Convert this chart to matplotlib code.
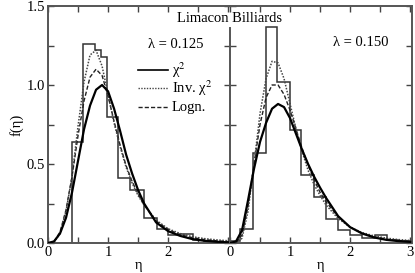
import matplotlib
matplotlib.use("Agg")
import matplotlib.pyplot as plt
from matplotlib.ticker import MultipleLocator, FormatStrFormatter

plt.rcParams['font.family'] = ['Liberation Serif', 'DejaVu Serif']
plt.rcParams['mathtext.fontset'] = 'stix'

# ---------------- data ----------------
eta = [0, 0.1, 0.2, 0.3, 0.4, 0.5, 0.6, 0.7, 0.8, 0.9, 1.0, 1.1, 1.2, 1.3,
       1.4, 1.5, 1.6, 1.8, 2.0, 2.2, 2.4, 2.6, 2.8, 3.0]

# lambda = 0.125 (left panel)
left_edges = [0.0, 0.40, 0.59, 0.78, 0.88, 0.99, 1.17, 1.37, 1.59, 1.81,
              2.0, 2.2, 2.42, 2.6, 2.8, 3.0]
left_hist = [0.0, 0.64, 1.26, 1.22, 1.175, 0.80, 0.41, 0.335, 0.16, 0.09,
             0.05, 0.057, 0.02, 0.01, 0.005]
left_chi2 = [0, 0.01, 0.06, 0.16, 0.32, 0.52, 0.72, 0.87, 0.97, 1.0, 0.96,
             0.85, 0.71, 0.56, 0.44, 0.335, 0.25, 0.13, 0.075, 0.045, 0.025,
             0.014, 0.008, 0.004]
left_inv = [0, 0.005, 0.06, 0.20, 0.42, 0.74, 1.02, 1.19, 1.22, 1.12, 0.94,
            0.76, 0.61, 0.48, 0.38, 0.30, 0.24, 0.145, 0.09, 0.06, 0.04,
            0.028, 0.02, 0.014]
left_logn = [0, 0.008, 0.07, 0.21, 0.42, 0.68, 0.90, 1.05, 1.10, 1.06, 0.93,
             0.77, 0.62, 0.49, 0.39, 0.31, 0.24, 0.14, 0.085, 0.053, 0.034,
             0.022, 0.014, 0.009]

# lambda = 0.150 (right panel)
right_edges = [0.0, 0.17, 0.39, 0.60, 0.79, 1.0, 1.19, 1.40, 1.60, 1.80,
               2.0, 2.2, 2.42, 2.61, 2.8, 3.0]
right_hist = [0.01, 0.09, 0.57, 1.365, 1.02, 0.715, 0.43, 0.29, 0.15, 0.082,
              0.05, 0.03, 0.05, 0.02, 0.01]
right_chi2 = [0, 0.01, 0.08, 0.27, 0.47, 0.64, 0.76, 0.85, 0.88, 0.86, 0.79,
              0.69, 0.59, 0.50, 0.42, 0.35, 0.285, 0.17, 0.10, 0.06, 0.035,
              0.02, 0.012, 0.007]
right_inv = [0, 0.0, 0.03, 0.20, 0.50, 0.82, 1.04, 1.15, 1.14, 1.04, 0.88,
             0.72, 0.58, 0.46, 0.37, 0.30, 0.24, 0.155, 0.10, 0.066, 0.045,
             0.031, 0.022, 0.016]
right_logn = [0, 0.003, 0.05, 0.23, 0.50, 0.75, 0.92, 1.0, 1.0, 0.94, 0.84,
              0.72, 0.60, 0.49, 0.40, 0.32, 0.26, 0.165, 0.10, 0.062, 0.04,
              0.025, 0.016, 0.01]

panel_labels = ["\u03bb = 0.125", "\u03bb = 0.150"]
legend_labels = ["\u03c7$^2$", "Inv. \u03c7$^2$", "Logn."]
title = "Limacon Billiards"

# ---------------- figure ----------------
W, H = 415, 273
fig = plt.figure(figsize=(W / 100, H / 100), dpi=100)
x0, x1, x2 = 48, 230, 412
ytop, ybot = 6, 243
axL = fig.add_axes([x0 / W, (H - ybot) / H, (x1 - x0) / W, (ybot - ytop) / H])
axR = fig.add_axes([x1 / W, (H - ybot) / H, (x2 - x1) / W, (ybot - ytop) / H])

spine_col = '#555555'
hist_col = '#333333'
fs = 10.5

for ax, edges, hist, c1, c2, c3 in [
        (axL, left_edges, left_hist, left_chi2, left_inv, left_logn),
        (axR, right_edges, right_hist, right_chi2, right_inv, right_logn)]:
    ax.stairs(hist, edges, color=hist_col, lw=1.1, zorder=2)
    ax.plot(eta, c3, color='#222222', lw=1.0, ls=(0, (3, 1.5)), zorder=3)
    ax.plot(eta, c2, color='#444444', lw=1.1, ls=(0, (1, 1)), zorder=3)
    ax.plot(eta, c1, color='black', lw=1.6, zorder=4)
    ax.set_xlim(0, 3.03)
    ax.set_ylim(0, 1.5)
    ax.xaxis.set_major_locator(MultipleLocator(1))
    ax.xaxis.set_minor_locator(MultipleLocator(0.5))
    ax.yaxis.set_major_locator(MultipleLocator(0.5))
    ax.yaxis.set_minor_locator(MultipleLocator(0.25))
    ax.yaxis.set_major_formatter(FormatStrFormatter('%.1f'))
    for s in ax.spines.values():
        s.set_color(spine_col)
        s.set_linewidth(1.4)
    ax.tick_params(which='both', direction='in', top=True, bottom=True,
                   left=True, right=True, color='#444444', width=1.0,
                   labelsize=fs, pad=2)
    ax.tick_params(which='major', length=4)
    ax.tick_params(which='minor', length=4)
    ax.set_xlabel("\u03b7", fontsize=fs, labelpad=0)

axL.spines['right'].set_visible(False)
axL.set_xticks([0, 1, 2])
axL.set_ylabel("f(\u03b7)", fontsize=fs, labelpad=2)
axR.tick_params(labelleft=False)
axR.spines['left'].set_bounds(0, 1.36)
axR.set_xticks([0, 1, 2, 3])

axL.text(2.13, 1.255, panel_labels[0], ha='center', va='center', fontsize=fs)
axR.text(2.18, 1.27, panel_labels[1], ha='center', va='center', fontsize=fs)

# legend in left panel
ly = [1.095, 0.98, 0.86]
styles = [dict(color='black', lw=1.2, ls='-'),
          dict(color='#444444', lw=1.0, ls=(0, (1, 1))),
          dict(color='#222222', lw=1.0, ls=(0, (3, 1.5)))]
for yv, st, lab in zip(ly, styles, legend_labels):
    axL.plot([1.5, 2.0], [yv, yv], **st)
    axL.text(2.06, yv, lab, ha='left', va='center', fontsize=fs)

fig.text(229 / W, 1 - 18 / H, title, ha='center', va='center', fontsize=fs)

fig.savefig("out.png", dpi=100)
